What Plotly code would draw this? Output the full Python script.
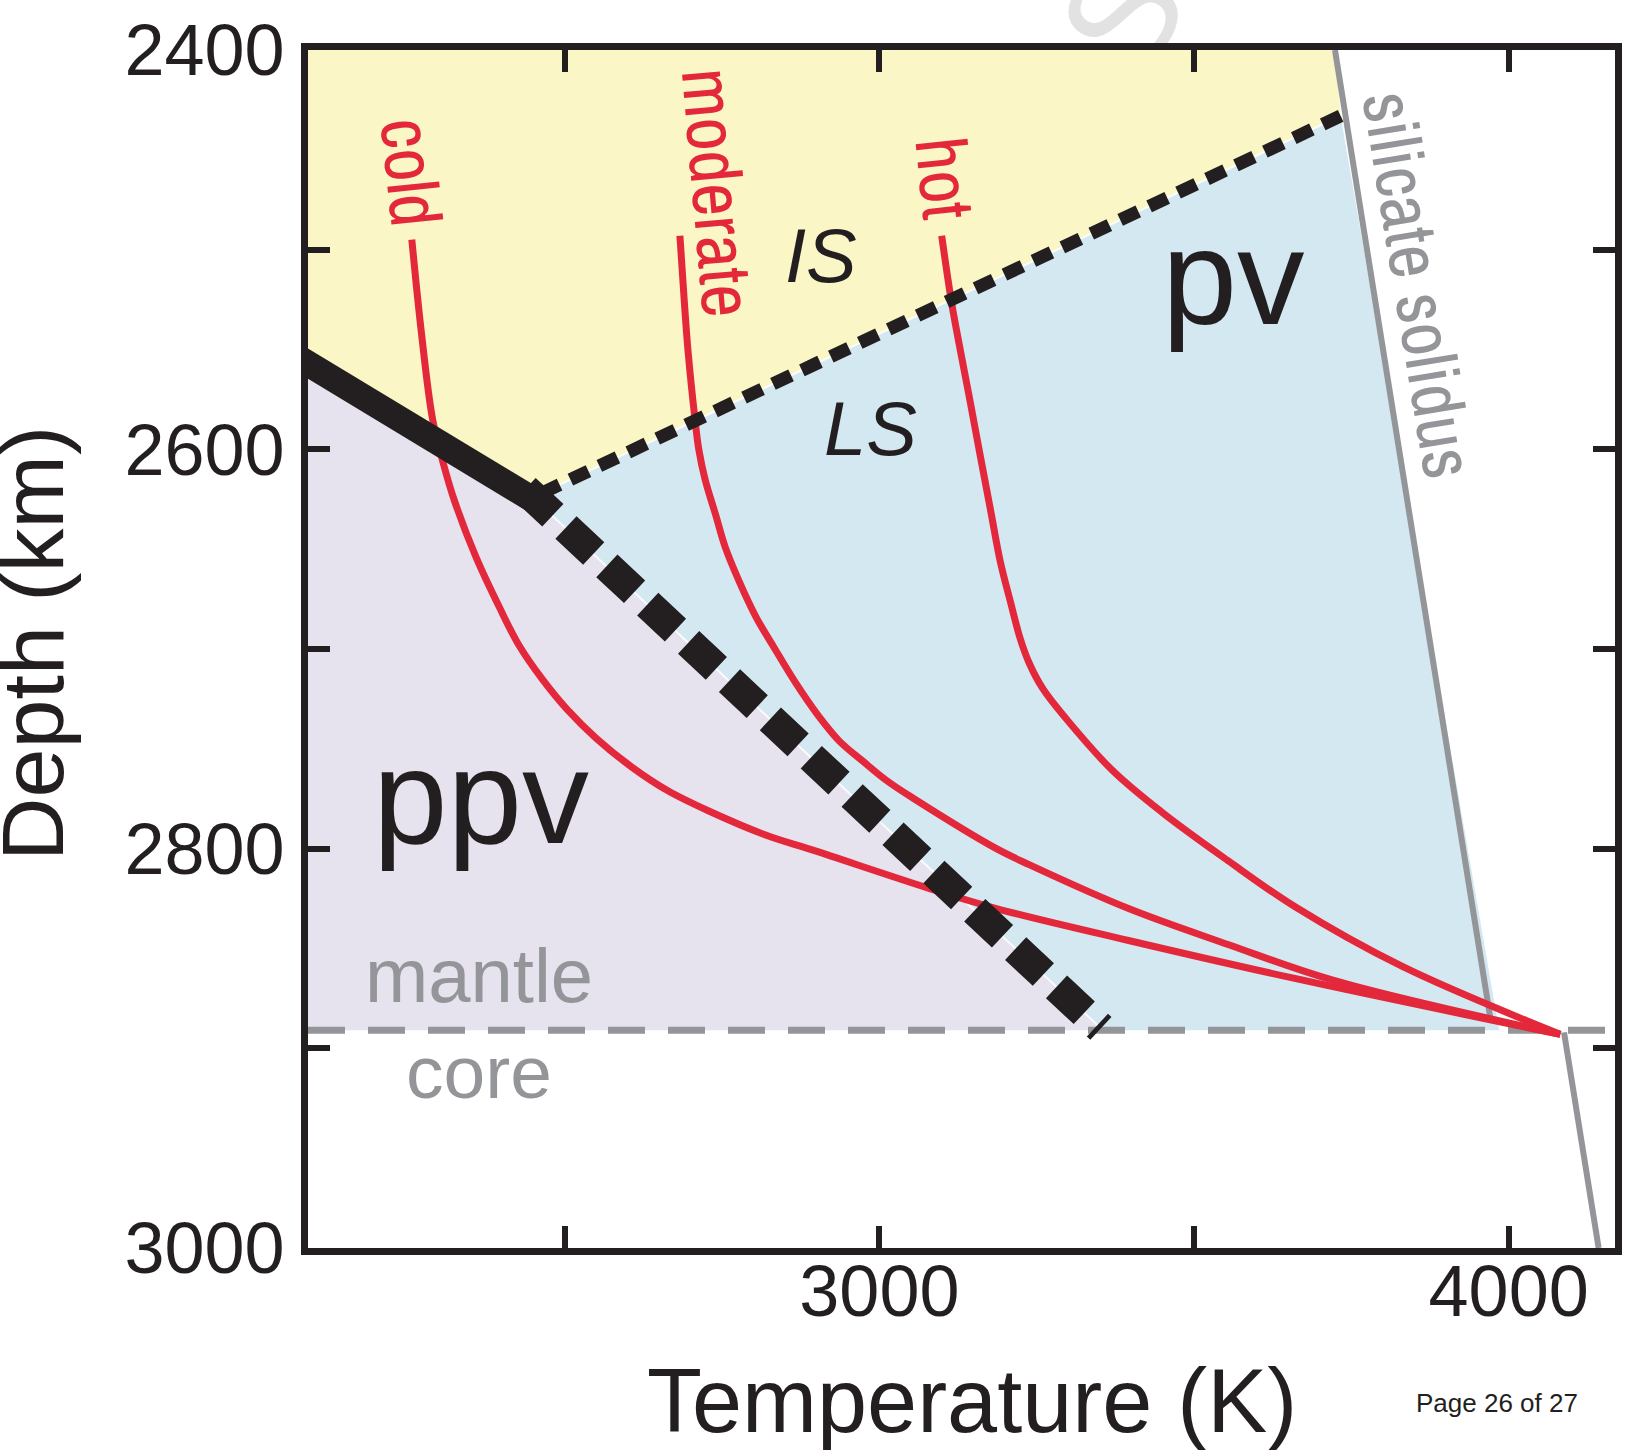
import plotly.graph_objects as go

# ---------------- data ----------------
temp_ticks = [2500, 3000, 3500, 4000]
temp_tick_labels = ["", "3000", "", "4000"]
depth_ticks = [2400, 2500, 2600, 2700, 2800, 2900, 3000]
depth_tick_labels = ["2400", "", "2600", "", "2800", "", "3000"]
temp_range = [2092, 4169]
depth_range = [3000, 2400]

cmb_depth = 2891  # core-mantle boundary (km)

cold_T = [2257, 2272, 2290, 2307, 2325, 2359, 2396, 2427, 2464, 2503, 2551, 2606,
          2664, 2728, 2818, 2897, 3080, 3186, 3396, 3660, 4082]
cold_D = [2495, 2541, 2585, 2607, 2626, 2654, 2679, 2698, 2715, 2730, 2745, 2759,
          2771, 2781, 2793, 2801, 2820, 2830, 2846, 2865, 2893]

moderate_T = [2683, 2690, 2696, 2707, 2713, 2723, 2740, 2755, 2777, 2804, 2834, 2867,
              2902, 2936, 2973, 3012, 3055, 3186, 3238, 3396, 3554, 3722, 4082]
moderate_D = [2493, 2526, 2551, 2585, 2600, 2615, 2633, 2649, 2666, 2684, 2700, 2717,
              2733, 2746, 2756, 2766, 2775, 2800, 2808, 2830, 2848, 2866, 2893]

hot_T = [3099, 3115, 3129, 3143, 3159, 3177, 3192, 3208, 3224, 3238, 3260, 3297,
         3371, 3450, 3554, 3660, 3831, 4082]
hot_D = [2493, 2527, 2551, 2574, 2601, 2631, 2656, 2676, 2695, 2707, 2720, 2735,
         2761, 2782, 2806, 2829, 2859, 2893]

solidus_T = [3724, 3972]          # silicate solidus in the mantle
solidus_D = [2400, 2887]
solidus_core_T = [4088, 4143]     # continuation below the CMB
solidus_core_D = [2892, 3000]

ppv_solid_T = [2081, 2459]        # ppv / high-spin pv boundary
ppv_solid_D = [2555, 2627]
ppv_dash_T = [2437, 3352]         # ppv / low-spin pv boundary
ppv_dash_D = [2620, 2890]
spin_T = [2463, 3733]             # IS / LS spin transition
spin_D = [2622, 2433]
pv_edge_T = [3733, 3985]          # right edge of the pv (LS) field
pv_edge_D = [2433, 2891]

# ---------------- colours ----------------
BLACK = "#231F20"
RED = "#E4283C"
GRAY = "#939598"
YELLOW = "#FAF6C6"
BLUE = "#D3E8F1"
LAVENDER = "#E6E2EE"
FONT = "Liberation Sans, Arial, Helvetica, sans-serif"
NARROW = "Archivo Narrow, Liberation Sans Narrow, Arial Narrow, DejaVu Sans Condensed, sans-serif"

W, H = 1632, 1450
L, R, T, B = 308, 10, 47, 202
PW, PH = W - L - R, H - T - B


def paper(xpx, ypx):
    return (xpx - L) / PW, 1 - (ypx - T) / PH


fig = go.Figure()

# ---- filled fields ----
yellow_T = [ppv_solid_T[0], solidus_T[0], spin_T[1], spin_T[0], ppv_solid_T[1], ppv_solid_T[0]]
yellow_D = [depth_range[1], depth_range[1], spin_D[1], spin_D[0], ppv_solid_D[1], ppv_solid_D[0]]
fig.add_trace(go.Scatter(x=yellow_T, y=yellow_D, fill="toself", fillcolor=YELLOW,
                         line=dict(width=0), mode="lines", hoverinfo="skip"))

blue_T = [ppv_solid_T[1], spin_T[0], pv_edge_T[0], pv_edge_T[1], ppv_dash_T[1], ppv_dash_T[1]]
blue_D = [ppv_solid_D[1], spin_D[0], pv_edge_D[0], pv_edge_D[1], cmb_depth, ppv_dash_D[1]]
fig.add_trace(go.Scatter(x=blue_T, y=blue_D, fill="toself", fillcolor=BLUE,
                         line=dict(width=0), mode="lines", hoverinfo="skip"))

lav_T = [ppv_solid_T[0], ppv_solid_T[1], ppv_dash_T[1], ppv_dash_T[1], ppv_solid_T[0]]
lav_D = [ppv_solid_D[0], ppv_solid_D[1], ppv_dash_D[1], cmb_depth, cmb_depth]
fig.add_trace(go.Scatter(x=lav_T, y=lav_D, fill="toself", fillcolor=LAVENDER,
                         line=dict(width=0), mode="lines", hoverinfo="skip"))

# thin light seams along the field boundaries
for tx, dy in [([ppv_solid_T[1], ppv_dash_T[1]], [ppv_solid_D[1], ppv_dash_D[1]]),
               (spin_T, spin_D)]:
    fig.add_trace(go.Scatter(x=tx, y=dy, mode="lines",
                             line=dict(color="rgba(255,255,255,0.85)", width=2),
                             hoverinfo="skip"))

# ---- core-mantle boundary ----
fig.add_trace(go.Scatter(x=[temp_range[0], temp_range[1]], y=[cmb_depth, cmb_depth],
                         mode="lines", line=dict(color=GRAY, width=7, dash="37px,23px"),
                         hoverinfo="skip"))

# ---- silicate solidus ----
fig.add_trace(go.Scatter(x=solidus_T, y=solidus_D, mode="lines",
                         line=dict(color=GRAY, width=6), hoverinfo="skip"))
fig.add_trace(go.Scatter(x=solidus_core_T, y=solidus_core_D, mode="lines",
                         line=dict(color=GRAY, width=6), hoverinfo="skip"))

# ---- geotherms ----
for tx, dy in [(cold_T, cold_D), (moderate_T, moderate_D), (hot_T, hot_D)]:
    fig.add_trace(go.Scatter(x=tx, y=dy, mode="lines",
                             line=dict(color=RED, width=7, shape="spline", smoothing=1.0),
                             hoverinfo="skip"))

# ---- phase boundaries ----
fig.add_trace(go.Scatter(x=ppv_solid_T, y=ppv_solid_D, mode="lines",
                         line=dict(color=BLACK, width=26), hoverinfo="skip"))
fig.add_trace(go.Scatter(x=ppv_dash_T, y=ppv_dash_D, mode="lines",
                         line=dict(color=BLACK, width=31, dash="38px,18px"), hoverinfo="skip"))
fig.add_trace(go.Scatter(x=spin_T, y=spin_D, mode="lines",
                         line=dict(color=BLACK, width=13, dash="20px,12px"), hoverinfo="skip"))

# ---------------- text ----------------
ann = []


def add_text(text, xpx, ypx, size, color, family=FONT, angle=0):
    xp, yp = paper(xpx, ypx)
    ann.append(dict(text=text, x=xp, y=yp, xref="paper", yref="paper",
                    xanchor="center", yanchor="middle", showarrow=False,
                    textangle=angle, font=dict(size=size, color=color, family=family)))


add_text("cold", 413, 170, 72, RED, NARROW, 84)
add_text("moderate", 721, 190, 72, RED, NARROW, 85)
add_text("hot", 949, 175, 72, RED, NARROW, 84)
add_text("silicate solidus", 1426, 282, 72, GRAY, NARROW, 80.7)
add_text("<i>IS</i>", 824, 253, 76, BLACK)
add_text("<i>LS</i>", 874, 426, 76, BLACK)
add_text("pv", 1238, 275, 135, BLACK)
add_text("ppv", 482, 795, 134, BLACK)
add_text("mantle", 480, 975, 76, GRAY)
add_text("core", 480, 1072, 75, GRAY)
add_text("Temperature (K)", 976, 1401, 90, BLACK)
add_text("Depth (km)", 31, 642, 88, BLACK, FONT, -90)
add_text("Page 26 of 27", 1503, 1403, 26, BLACK)

# watermark fragment above the frame (drawn beneath the plot)
wx, wy = paper(1115, 4)
shapes = [dict(type="rect", xref="paper", yref="paper", x0=wx - 0.05, x1=wx + 0.05,
               y0=wy - 0.05, y1=wy + 0.05, line=dict(width=0), fillcolor="rgba(0,0,0,0)",
               layer="below",
               label=dict(text="S", textangle=-55, textposition="middle center",
                          font=dict(size=150, color="#E2E2E3", family=FONT)))]

axis_common = dict(showline=True, linewidth=7, linecolor=BLACK, mirror="ticks",
                   ticks="inside", ticklen=22, tickwidth=6, tickcolor=BLACK,
                   showgrid=False, zeroline=False,
                   tickfont=dict(size=72, color=BLACK, family=FONT))

fig.update_layout(
    width=W, height=H, margin=dict(l=L, r=R, t=T, b=B),
    paper_bgcolor="white", plot_bgcolor="white", showlegend=False,
    xaxis=dict(range=temp_range, tickvals=temp_ticks, ticktext=temp_tick_labels,
               ticklabelstandoff=-25, **axis_common),
    yaxis=dict(range=depth_range, tickvals=depth_ticks, ticktext=depth_tick_labels,
               ticklabelstandoff=2, **axis_common),
    annotations=ann, shapes=shapes,
)

fig.write_html("out.html", config={"displayModeBar": False},
               post_script="document.body.style.margin='0px';")
